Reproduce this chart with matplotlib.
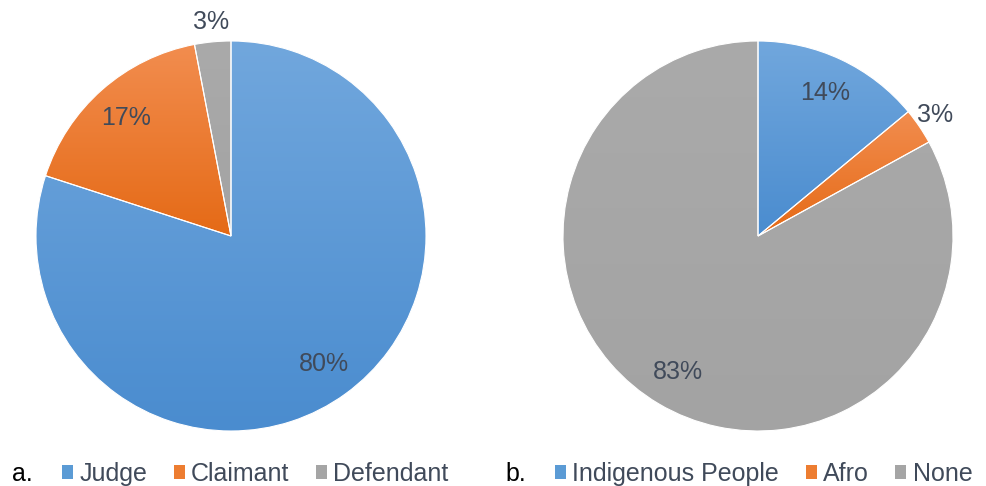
import numpy as np
import matplotlib.pyplot as plt
from matplotlib.patches import Patch
from matplotlib.colors import LinearSegmentedColormap

plt.rcParams['font.family'] = ['Liberation Sans', 'DejaVu Sans']

# data
role_labels = ['Judge', 'Claimant', 'Defendant']
role_values = [80, 17, 3]
ethnic_labels = ['Indigenous People', 'Afro', 'None']
ethnic_values = [14, 3, 83]

colors = ['#5B9BD5', '#ED7D31', '#A5A5A5']
# light/dark ends for the Excel-like vertical gradient
grad = {
    '#5B9BD5': ('#71A7DD', '#4A8CCF'),
    '#ED7D31': ('#F28D4F', '#E56A16'),
    '#A5A5A5': ('#AAAAAA', '#A3A3A3'),
}
text_color = '#404A5A'
fs = 18

fig = plt.figure(figsize=(9.86, 4.86), dpi=100)
W, H = 986, 486
R = 195


def draw_pie(cx, cy, values, tag, labels, legend_x):
    ax = fig.add_axes([(cx - R) / W, (H - cy - R) / H, 2 * R / W, 2 * R / H])
    wedges, _ = ax.pie(values, colors=colors, startangle=90, counterclock=False,
                       wedgeprops=dict(edgecolor='white', linewidth=0.8))
    for w, c, v in zip(wedges, colors, values):
        x0, y0, x1, y1 = w.get_path().get_extents().extents
        cmap = LinearSegmentedColormap.from_list('g', [grad[c][1], grad[c][0]])
        g = np.linspace(0, 1, 256).reshape(-1, 1)
        im = ax.imshow(g, extent=[x0, x1, y0, y1], origin='lower', cmap=cmap,
                       aspect='auto', zorder=1, interpolation='bilinear')
        im.set_clip_path(w)
        w.set_facecolor('none')
        w.set_zorder(2)
        # percentage label: inside for big slices, just outside for small ones
        mid = np.deg2rad((w.theta1 + w.theta2) / 2)
        d = 0.81 if v >= 5 else 1.10
        ax.text(d * np.cos(mid), d * np.sin(mid), f'{v}%', ha='center', va='center',
                fontsize=fs, color=text_color, zorder=3)
    ax.set_xlim(-1, 1)
    ax.set_ylim(-1, 1)
    ax.set_aspect('equal')
    ax.axis('off')

    handles = [Patch(facecolor=c, edgecolor='none') for c in colors]
    fig.legend(handles, labels, loc='center left', ncol=3, frameon=False,
               bbox_to_anchor=(legend_x / W, 12 / H), fontsize=fs,
               handlelength=0.45, handleheight=0.45, handletextpad=0.25,
               columnspacing=1.05, borderpad=0, borderaxespad=0,
               labelcolor=text_color)
    fig.text((legend_x - 50) / W, 12 / H, tag, ha='left', va='center',
             fontsize=fs, color='black')


draw_pie(231, 236, role_values, 'a.', role_labels, 62)
draw_pie(758, 236, ethnic_values, 'b.', ethnic_labels, 555)

fig.savefig('out.png', dpi=100, facecolor='white')
